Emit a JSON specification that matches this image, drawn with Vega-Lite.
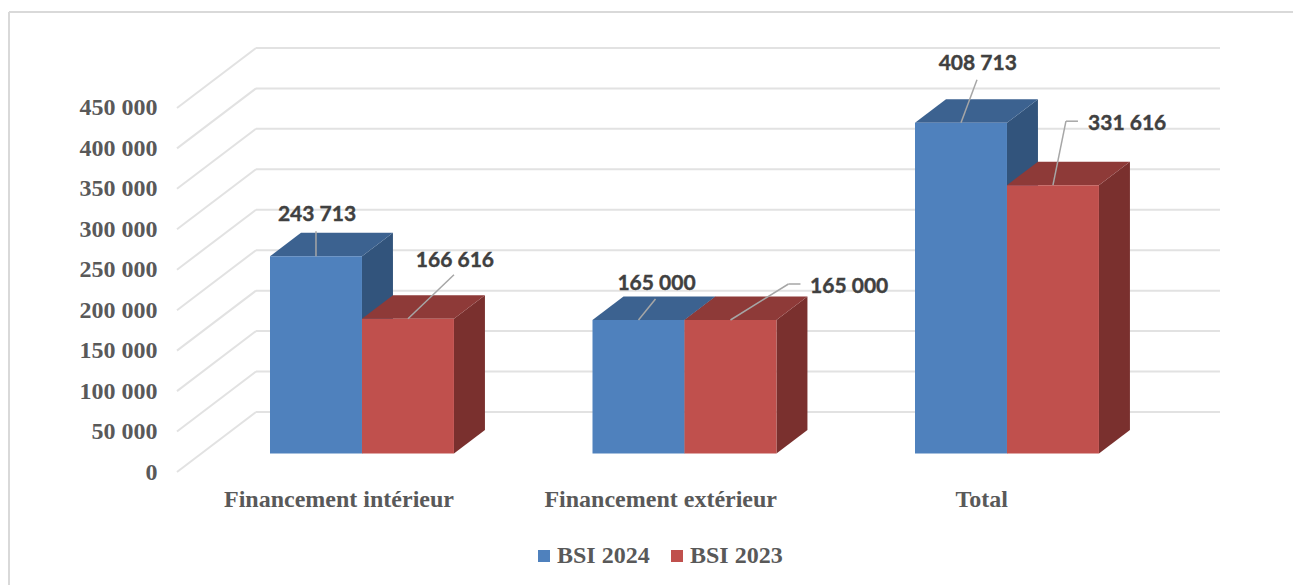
{
"$schema":"https://vega.github.io/schema/vega-lite/v6.json",
"autosize":{"type":"none"},
"padding":{"left":9,"top":12,"right":0,"bottom":0},
"width":1284,"height":573,
"background":"white",
"view":{"stroke":null},
"config":{"axis":{"grid":false,"domain":false,"ticks":false,"title":null}},
"datasets":{
"barres":[
{"categorie":"Financement intérieur","serie":"BSI 2024","valeur":243713},
{"categorie":"Financement intérieur","serie":"BSI 2023","valeur":166616},
{"categorie":"Financement extérieur","serie":"BSI 2024","valeur":165000},
{"categorie":"Financement extérieur","serie":"BSI 2023","valeur":165000},
{"categorie":"Total","serie":"BSI 2024","valeur":408713},
{"categorie":"Total","serie":"BSI 2023","valeur":331616}],
"reperes":[{"repere":0},{"repere":50000},{"repere":100000},{"repere":150000},{"repere":200000},{"repere":250000},{"repere":300000},{"repere":350000},{"repere":400000},{"repere":450000}]
},
"data":{"name":"barres"},
"transform":[
{"calculate":"indexof(['Financement intérieur','Financement extérieur','Total'],datum.categorie)","as":"i"},
{"calculate":"datum.serie=='BSI 2024'?0:1","as":"s"},
{"calculate":"2*datum.i+datum.s","as":"b"},
{"calculate":"datum.i+datum.s*0.2852","as":"xg"},
{"calculate":"datum.xg+0.2852","as":"xd"},
{"calculate":"datum.xg+0.1426","as":"xc"}
],
"resolve":{"scale":{"color":"independent"}},
"layer":[
{"data":{"values":[{"cadre":"contour"}]},
 "mark":{"type":"rule","color":"#D9D9D9","strokeWidth":2},
 "encoding":{
 "x":{"datum":-0.8093,"type":"quantitative","scale":{"domain":[-0.8093,3.1721],"nice":false,"zero":false},"axis":{"values":[0.2124,1.21,2.205],"labelExpr":"datum.value<1?'Financement intérieur':datum.value<2?'Financement extérieur':'Total'","offset":-86,"labelPadding":0,"labelBaseline":"middle","labelFont":"Liberation Serif","labelFontWeight":"bold","labelFontSize":24,"labelLimit":500,"labelColor":"#595959","labelOverlap":false,"labelFlush":false,"labelAngle":0}},
 "y":{"datum":-139668,"type":"quantitative","scale":{"domain":[-139668,568560],"nice":false,"zero":false},"axis":{"values":[0,50000,100000,150000,200000,250000,300000,350000,400000,450000],"labelExpr":"replace(format(datum.value,','),',',' ')","offset":-148,"labelPadding":0,"labelFont":"Liberation Serif","labelFontWeight":"bold","labelFontSize":24,"labelColor":"#595959","labelOverlap":false,"labelFlush":false}},
 "y2":{"datum":568560}}},
{"data":{"values":[{"cadre":"contour"}]},
 "mark":{"type":"rule","color":"#D9D9D9","strokeWidth":2},
 "encoding":{
 "x":{"datum":-0.8093,"type":"quantitative","scale":{"domain":[-0.8093,3.1721],"nice":false,"zero":false}},
 "x2":{"datum":3.1721},
 "y":{"datum":568560,"type":"quantitative","scale":{"domain":[-139668,568560],"nice":false,"zero":false}}}},
{"data":{"name":"reperes"},
 "transform":[{"calculate":"datum.repere+74160","as":"fond"}],
 "mark":{"type":"rule","color":"#E2E2E2","strokeWidth":2},
 "encoding":{
 "x":{"datum":-0.2884,"type":"quantitative","scale":{"domain":[-0.8093,3.1721],"nice":false,"zero":false}},
 "x2":{"datum":-0.0434},
 "y":{"field":"repere","type":"quantitative","scale":{"domain":[-139668,568560],"nice":false,"zero":false}},
 "y2":{"field":"fond"}}},
{"data":{"name":"reperes"},
 "transform":[{"calculate":"datum.repere+74160","as":"fond"}],
 "mark":{"type":"rule","color":"#E2E2E2","strokeWidth":2},
 "encoding":{
 "x":{"datum":-0.0434,"type":"quantitative","scale":{"domain":[-0.8093,3.1721],"nice":false,"zero":false}},
 "x2":{"datum":2.9457},
 "y":{"field":"fond","type":"quantitative","scale":{"domain":[-139668,568560],"nice":false,"zero":false}}}},
{"transform":[
 {"calculate":"[0,1]","as":"t"},{"flatten":["t"]},
 {"calculate":"datum.xd+0.0961*datum.t","as":"px"},
 {"calculate":"datum.valeur+29046*datum.t","as":"haut"},
 {"calculate":"29046*datum.t","as":"bas"}],
 "mark":{"type":"area","orient":"vertical","yOffset":-18.5,"y2Offset":-18.5},
 "encoding":{
 "x":{"field":"px","type":"quantitative","scale":{"domain":[-0.8093,3.1721],"nice":false,"zero":false}},
 "y":{"field":"haut","type":"quantitative","scale":{"domain":[-139668,568560],"nice":false,"zero":false}},
 "y2":{"field":"bas"},
 "detail":{"field":"b"},
 "color":{"field":"serie","type":"nominal","scale":{"domain":["BSI 2024","BSI 2023"],"range":["#32547C","#7A302E"]},"legend":null}}},
{"transform":[
 {"calculate":"[0,1,2,3]","as":"t"},{"flatten":["t"]},
 {"calculate":"[datum.xg,datum.xg+0.0961,datum.xd,datum.xd+0.0961][datum.t]","as":"px"},
 {"calculate":"datum.t==0?datum.valeur:datum.valeur+29046","as":"haut"},
 {"calculate":"datum.t==3?datum.valeur+29046:datum.valeur","as":"bas"}],
 "mark":{"type":"area","orient":"vertical","yOffset":-18.5,"y2Offset":-18.5},
 "encoding":{
 "x":{"field":"px","type":"quantitative","scale":{"domain":[-0.8093,3.1721],"nice":false,"zero":false}},
 "y":{"field":"haut","type":"quantitative","scale":{"domain":[-139668,568560],"nice":false,"zero":false}},
 "y2":{"field":"bas"},
 "detail":{"field":"b"},
 "color":{"field":"serie","type":"nominal","scale":{"domain":["BSI 2024","BSI 2023"],"range":["#3C6290","#8E3A38"]},"legend":null}}},
{"mark":{"type":"bar","yOffset":-18.5,"y2Offset":-18.5},
 "encoding":{
 "x":{"field":"xg","type":"quantitative","scale":{"domain":[-0.8093,3.1721],"nice":false,"zero":false}},
 "x2":{"field":"xd"},
 "y":{"field":"valeur","type":"quantitative","scale":{"domain":[-139668,568560],"nice":false,"zero":false}},
 "y2":{"datum":0},
 "color":{"field":"serie","type":"nominal","scale":{"domain":["BSI 2024","BSI 2023"],"range":["#4F81BD","#C0504D"]},
  "legend":{"orient":"none","legendX":523,"legendY":532,"direction":"horizontal","title":null,"symbolType":"square","symbolSize":144,"symbolStrokeWidth":0,"labelFont":"Liberation Serif","labelFontWeight":"bold","labelFontSize":24,"labelColor":"#595959","labelLimit":200,"columnPadding":15,"padding":0,"labelOffset":1}}}},
{"transform":[
 {"calculate":"datum.xc+[0,46,17,58,16,13][datum.b]/322.5","as":"fx"},
 {"calculate":"datum.valeur+[25,44,21,36,43,64][datum.b]*1236","as":"fy"}],
 "mark":{"type":"rule","color":"#A6A6A6","strokeWidth":1.5,"yOffset":-18.5,"y2Offset":-18.5},
 "encoding":{
 "x":{"field":"xc","type":"quantitative","scale":{"domain":[-0.8093,3.1721],"nice":false,"zero":false}},
 "x2":{"field":"fx"},
 "y":{"field":"valeur","type":"quantitative","scale":{"domain":[-139668,568560],"nice":false,"zero":false}},
 "y2":{"field":"fy"}}},
{"transform":[
 {"filter":"datum.b==3||datum.b==5"},
 {"calculate":"datum.xc+[0,46,17,58,16,13][datum.b]/322.5","as":"fx"},
 {"calculate":"datum.fx+12/322.5","as":"gx"},
 {"calculate":"datum.valeur+[25,44,21,36,43,64][datum.b]*1236","as":"fy"}],
 "mark":{"type":"rule","color":"#A6A6A6","strokeWidth":1.5,"yOffset":-18.5},
 "encoding":{
 "x":{"field":"fx","type":"quantitative","scale":{"domain":[-0.8093,3.1721],"nice":false,"zero":false}},
 "x2":{"field":"gx"},
 "y":{"field":"fy","type":"quantitative","scale":{"domain":[-139668,568560],"nice":false,"zero":false}}}},
{"transform":[
 {"calculate":"datum.xc+[1,47,18,118.75,16.75,74.25][datum.b]/322.5","as":"lx"},
 {"calculate":"datum.valeur+[41,58,36,33,58.5,61.5][datum.b]*1236","as":"ly"},
 {"calculate":"replace(format(datum.valeur,','),',',' ')","as":"etiquette"}],
 "mark":{"type":"text","align":"center","baseline":"middle","font":"Lato","fontWeight":"bold","fontSize":21,"color":"#404040","stroke":"#404040","strokeWidth":0.4,"yOffset":-18.5},
 "encoding":{
 "x":{"field":"lx","type":"quantitative","scale":{"domain":[-0.8093,3.1721],"nice":false,"zero":false}},
 "y":{"field":"ly","type":"quantitative","scale":{"domain":[-139668,568560],"nice":false,"zero":false}},
 "text":{"field":"etiquette"}}}
]
}
